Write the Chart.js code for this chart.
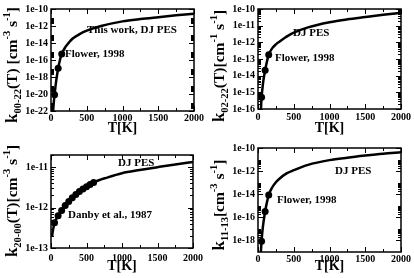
<!DOCTYPE html>
<html><head><meta charset="utf-8">
<script src="https://cdn.jsdelivr.net/npm/chart.js@4"></script>
<style>
html,body{margin:0;padding:0;background:#fff;}
#wrap{position:relative;width:414px;height:278px;overflow:hidden;font-family:"Liberation Serif","Times New Roman",serif;font-weight:bold;color:#000;}
.pan{position:absolute;width:207px;height:139px;}
.yt{position:absolute;white-space:nowrap;font-size:15.5px;line-height:1;transform:translate(-50%,-50%) rotate(-90deg);}
.yt .k{font-size:17px;}
.yt sub,.yt sup{font-size:10.5px;line-height:0;}
.ann{position:absolute;white-space:nowrap;font-size:11px;line-height:1;transform:translateY(-50%);}
</style></head>
<body><div id="wrap">
<div class="pan" style="left:0;top:0"><canvas id="c1" width="207" height="139"></canvas></div>
<div class="pan" style="left:207px;top:0"><canvas id="c2" width="207" height="139"></canvas></div>
<div class="pan" style="left:0;top:139px"><canvas id="c3" width="207" height="139"></canvas></div>
<div class="pan" style="left:207px;top:139px"><canvas id="c4" width="207" height="139"></canvas></div>

<div class="yt" style="left:11px;top:65px"><span class="k">k</span><sub>00-22</sub>(T) [cm<sup>-3</sup> s<sup>-1</sup>]</div>
<div class="yt" style="left:218px;top:66px"><span class="k">k</span><sub>02-22</sub>(T)[cm<sup>-1</sup> s<sup>-1</sup>]</div>
<div class="yt" style="left:11px;top:201px"><span class="k">k</span><sub>20-00</sub>(T)[cm<sup>-3</sup> s<sup>-1</sup>]</div>
<div class="yt" style="left:218px;top:205px"><span class="k">k</span><sub>11-13</sub>[cm<sup>-3</sup> s<sup>-1</sup>]</div>

<div class="ann" style="left:87px;top:29px">This work, DJ PES</div>
<div class="ann" style="left:65px;top:53px">Flower, 1998</div>
<div class="ann" style="left:293px;top:32px">DJ PES</div>
<div class="ann" style="left:275px;top:57px">Flower, 1998</div>
<div class="ann" style="left:118px;top:162px">DJ PES</div>
<div class="ann" style="left:68px;top:214px">Danby et al., 1987</div>
<div class="ann" style="left:335px;top:170px">DJ PES</div>
<div class="ann" style="left:277px;top:199px">Flower, 1998</div>
</div>
<script>
// ---- data ----
const xTicks = [0, 500, 1000, 1500, 2000];

// panel 1: k00-22
const t1 = [27, 30, 40, 50, 60, 75, 100, 125, 150, 200, 250, 300, 400, 500, 700, 1000, 1250, 1500, 1750, 2000];
const k1 = [3.2e-23, 1e-22, 1.3e-21, 7.9e-21, 5e-20, 5e-19, 1e-17, 1e-16, 5e-16, 3.2e-15, 1.1e-14, 3.2e-14, 1.1e-13, 2.8e-13, 1e-12, 3.5e-12, 6.6e-12, 1.1e-11, 1.8e-11, 2.7e-11];
const f1T = [50, 100, 150];
const f1K = [7.9e-21, 1.1e-17, 5e-16];
const y1Ticks = [1e-22, 1e-20, 1e-18, 1e-16, 1e-14, 1e-12, 1e-10];

// panel 2: k02-22
const t2 = [40, 50, 60, 75, 100, 125, 150, 200, 250, 300, 400, 500, 700, 1000, 1250, 1500, 1750, 2000];
const k2 = [7.9e-17, 5e-16, 1.4e-15, 5e-15, 2.1e-14, 7.1e-14, 1.8e-13, 4.5e-13, 7.6e-13, 1.1e-12, 2.2e-12, 3.8e-12, 7.9e-12, 1.6e-11, 2.4e-11, 3.3e-11, 4.5e-11, 6e-11];
const f2T = [50, 100, 150];
const f2K = [5e-16, 2.1e-14, 1.8e-13];
const y2Ticks = [1e-16, 1e-15, 1e-14, 1e-13, 1e-12, 1e-11, 1e-10];

// panel 3: k20-00
const t3 = [15, 25, 50, 75, 100, 150, 200, 250, 300, 400, 500, 600, 800, 1000, 1250, 1500, 1750, 2000];
const k3 = [1.9e-13, 2.6e-13, 4.2e-13, 5.2e-13, 6.3e-13, 8.5e-13, 1.12e-12, 1.41e-12, 1.74e-12, 2.5e-12, 3.3e-12, 4.2e-12, 5.6e-12, 7.1e-12, 8.5e-12, 1e-11, 1.17e-11, 1.35e-11];
const d3T = [50, 100, 150, 200, 250, 300, 350, 400, 450, 500, 550, 600];
const d3K = [4.2e-13, 6.3e-13, 8.5e-13, 1.12e-12, 1.41e-12, 1.74e-12, 2.1e-12, 2.5e-12, 2.9e-12, 3.3e-12, 3.7e-12, 4.2e-12];
const y3Ticks = [1e-13, 1e-12, 1e-11];

// panel 4: k11-13
const t4 = [35, 40, 50, 60, 75, 100, 125, 150, 200, 250, 300, 400, 500, 700, 1000, 1250, 1500, 1750, 2000];
const k4 = [3.2e-20, 1e-19, 8.7e-19, 5e-18, 3.2e-17, 3.2e-16, 2e-15, 8.5e-15, 4e-14, 1.1e-13, 2.2e-13, 6.3e-13, 1.2e-12, 3.5e-12, 8.9e-12, 1.45e-11, 2.2e-11, 3.2e-11, 4.3e-11];
const f4T = [50, 100, 150];
const f4K = [8.7e-19, 3.2e-16, 8.5e-15];
const y4Ticks = [1e-18, 1e-16, 1e-14, 1e-12, 1e-10];

// ---- drawing ----
const FONT = "'Liberation Serif', 'Times New Roman', serif";
const pairs = (xs, ys) => xs.map((x, i) => ({x: x, y: ys[i]}));

const frameTicks = {
  id: 'frameTicks',
  afterDatasetsDraw(chart, args, opts) {
    const {ctx, chartArea: a, scales: {x, y}} = chart;
    ctx.save();
    ctx.strokeStyle = '#000';
    ctx.lineWidth = 1;
    ctx.beginPath();
    const xs = [];
    xTicks.forEach((v, i) => {
      xs.push([v, 5]);
      if (i < xTicks.length - 1) xs.push([(v + xTicks[i + 1]) / 2, 3]);
    });
    xs.forEach(([v, L]) => {
      const px = Math.round(x.getPixelForValue(v)) + 0.5;
      ctx.moveTo(px, a.bottom); ctx.lineTo(px, a.bottom - L);
      ctx.moveTo(px, a.top); ctx.lineTo(px, a.top + L);
    });
    opts.majors.forEach(t => {
      for (let m = 1; m <= 9; m++) {
        const v = t * m;
        if (v < y.min * 0.999 || v > y.max * 1.001) continue;
        const py = Math.round(y.getPixelForValue(v)) + 0.5;
        const L = m === 1 ? 5 : 3;
        ctx.moveTo(a.left, py); ctx.lineTo(a.left + L, py);
        ctx.moveTo(a.right, py); ctx.lineTo(a.right - L, py);
      }
    });
    ctx.stroke();
    ctx.lineWidth = 1.5;
    ctx.strokeRect(a.left, a.top, a.right - a.left, a.bottom - a.top);
    ctx.restore();
  }
};

function makePanel(id, cT, cK, pT, pK, yMin, yMax, yTicks, geo) {
  new Chart(document.getElementById(id), {
    type: 'scatter',
    data: {
      datasets: [
        {data: pairs(cT, cK), showLine: true, borderColor: '#000', borderWidth: 2.5,
         pointRadius: 0, cubicInterpolationMode: 'monotone', order: 2},
        {data: pairs(pT, pK), showLine: false, pointRadius: 3.5, pointBackgroundColor: '#000',
         pointBorderColor: '#000', pointBorderWidth: 0, order: 1}
      ]
    },
    options: {
      responsive: false, animation: false, devicePixelRatio: 1,
      layout: {padding: {left: 0, right: 13, top: geo.top, bottom: 0}},
      plugins: {legend: {display: false}, tooltip: {enabled: false}, frameTicks: {majors: yTicks}},
      scales: {
        x: {
          type: 'linear', min: 0, max: 2000,
          afterBuildTicks: s => { s.ticks = xTicks.map(v => ({value: v})); },
          afterFit: s => { s.height = geo.xh; },
          grid: {display: false, drawTicks: false}, border: {display: false},
          ticks: {color: '#000', padding: geo.tp, font: {family: FONT, size: 10, weight: 'bold'}, maxRotation: 0, autoSkip: false,
                  callback: v => String(v)},
          title: {display: true, text: 'T[K]', color: '#000', padding: {top: 0, bottom: geo.titb},
                  font: {family: FONT, size: 14, weight: 'bold', lineHeight: 1}}
        },
        y: {
          type: 'logarithmic', min: yMin, max: yMax,
          afterBuildTicks: s => { s.ticks = yTicks.map(v => ({value: v})); },
          afterFit: s => { s.width = 51; },
          grid: {display: false, drawTicks: false}, border: {display: false},
          ticks: {color: '#000', padding: 3, autoSkip: false, font: {family: FONT, size: 10, weight: 'bold'},
                  callback: v => '1e' + Math.round(Math.log10(v))}
        }
      }
    },
    plugins: [frameTicks]
  });
}

makePanel('c1', t1, k1, f1T, f1K, 1e-22, 1e-10, y1Ticks, {top: 4, xh: 28, tp: 1, titb: 4});
makePanel('c2', t2, k2, f2T, f2K, 1e-16, 1e-10, y2Ticks, {top: 4, xh: 30, tp: 2, titb: 4});
makePanel('c3', t3, k3, d3T, d3K, 1e-13, 2e-11, y3Ticks, {top: 16, xh: 30, tp: 4, titb: 5});
makePanel('c4', t4, k4, f4T, f4K, 1e-19, 1e-10, y4Ticks, {top: 9, xh: 26, tp: 1, titb: 5});
</script>
</body></html>
